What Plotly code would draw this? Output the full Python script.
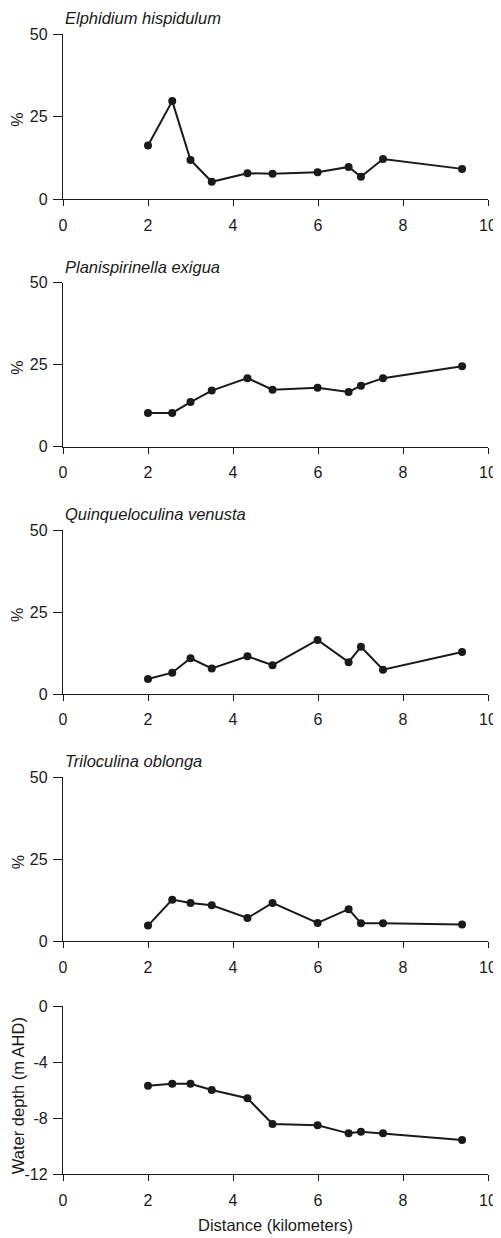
import plotly.graph_objects as go

# ---- data ----
distance_km = [2.00, 2.57, 3.00, 3.50, 4.34, 4.93, 5.99, 6.72, 7.01, 7.53, 9.39]

elphidium_hispidulum = [16.3, 29.7, 11.9, 5.3, 7.9, 7.7, 8.2, 9.8, 6.8, 12.2, 9.2]
planispirinella_exigua = [10.3, 10.3, 13.6, 17.1, 20.9, 17.4, 18.0, 16.7, 18.6, 20.9, 24.5]
quinqueloculina_venusta = [4.6, 6.5, 10.9, 7.8, 11.5, 8.8, 16.5, 9.7, 14.4, 7.4, 12.8]
triloculina_oblonga = [4.8, 12.7, 11.7, 11.0, 7.1, 11.7, 5.6, 9.8, 5.5, 5.5, 5.1]
water_depth_m_ahd = [-5.68, -5.54, -5.54, -5.99, -6.58, -8.41, -8.51, -9.08, -8.96, -9.08, -9.55]

species_names = ["Elphidium hispidulum", "Planispirinella exigua",
                 "Quinqueloculina venusta", "Triloculina oblonga"]
species_series = [elphidium_hispidulum, planispirinella_exigua,
                  quinqueloculina_venusta, triloculina_oblonga]

x_ticks = [0, 2, 4, 6, 8, 10]
pct_ticks = [0, 25, 50]
depth_ticks = [-12, -8, -4, 0]
depth_tick_labels = ["-12", "-8", "-4", "0"]

x_title = "Distance (kilometers)"
pct_title = "%"
depth_title = "Water depth (m AHD)"

# ---- layout constants (pixels in the 501x1238 page) ----
PAGE_W, PAGE_H = 501, 1238
BODY = 8                      # default page body margin around the plot div
W, H = PAGE_W - BODY, PAGE_H - BODY
X_LEFT, X_RIGHT = 63, 488
panels_px = [(34, 199.3), (282.7, 446.7), (530, 694), (777.3, 941.3), (1006, 1174.3)]

def px(p):
    return (p - BODY) / W

def py(p):
    return 1 - (p - BODY) / H

FONT = "Liberation Sans, Arial, Helvetica, sans-serif"
INK = "#1a1a1a"

fig = go.Figure()
all_series = species_series + [water_depth_m_ahd]
for i, ys in enumerate(all_series):
    n = "" if i == 0 else str(i + 1)
    fig.add_trace(go.Scatter(
        x=distance_km, y=ys, mode="lines+markers",
        line=dict(color=INK, width=2),
        marker=dict(color=INK, size=8),
        xaxis="x" + n, yaxis="y" + n, showlegend=False,
        hoverinfo="x+y"))

layout = dict(
    width=W, height=H,
    margin=dict(l=0, r=0, t=0, b=0, pad=0, autoexpand=False),
    paper_bgcolor="white", plot_bgcolor="white",
    font=dict(family=FONT, size=16, color=INK),
    showlegend=False,
)

annotations = []
for i, (top, bot) in enumerate(panels_px):
    n = "" if i == 0 else str(i + 1)
    layout["xaxis" + n] = dict(
        domain=[px(X_LEFT), px(X_RIGHT)], range=[0, 10], automargin=False,
        anchor="y" + n, tickvals=x_ticks, ticks="outside", ticklen=6,
        tickwidth=1.3, tickcolor=INK, showline=True, linecolor=INK,
        linewidth=1.3, showgrid=False, zeroline=False, ticklabelstandoff=5,
        tickfont=dict(family=FONT, size=16, color=INK))
    ydict = dict(
        domain=[py(bot), py(top)], anchor="x" + n, automargin=False,
        ticks="outside", ticklen=9, tickwidth=1.3, tickcolor=INK,
        showline=True, linecolor=INK, linewidth=1.3,
        showgrid=False, zeroline=False, ticklabelstandoff=2,
        tickfont=dict(family=FONT, size=16, color=INK))
    if i < 4:
        ydict.update(range=[0, 50], tickvals=pct_ticks)
        annotations.append(dict(
            text=species_names[i], xref="paper", yref="paper",
            x=px(X_LEFT), y=py(top - 16), xanchor="left", yanchor="middle",
            showarrow=False,
            font=dict(family=FONT, size=16.5, color=INK, style="italic")))
        annotations.append(dict(
            text=pct_title, xref="paper", yref="paper",
            x=px(18), y=py((top + bot) / 2 + 3), xanchor="center",
            yanchor="middle", textangle=-90, showarrow=False, borderpad=0,
            font=dict(family=FONT, size=16, color=INK)))
    else:
        ydict.update(range=[-12, 0], tickvals=depth_ticks,
                     ticktext=depth_tick_labels)
        annotations.append(dict(
            text=depth_title, xref="paper", yref="paper",
            x=px(18), y=py((top + bot) / 2 + 6), xanchor="center",
            yanchor="middle", textangle=-90, showarrow=False, borderpad=0,
            font=dict(family=FONT, size=16.5, color=INK)))
    layout["yaxis" + n] = ydict

annotations.append(dict(
    text=x_title, xref="paper", yref="paper",
    x=px((X_LEFT + X_RIGHT) / 2), y=py(1225), xanchor="center",
    yanchor="middle", showarrow=False,
    font=dict(family=FONT, size=16.5, color=INK)))
layout["annotations"] = annotations

fig.update_layout(**layout)
fig.write_html("out.html")
